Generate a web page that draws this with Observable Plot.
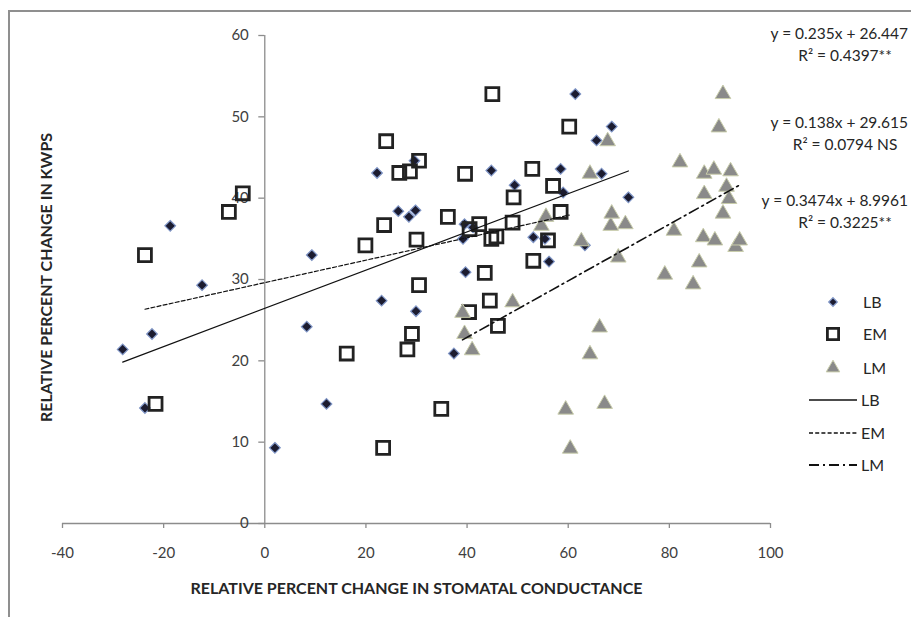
<!DOCTYPE html>
<html>
<head>
<meta charset="utf-8">
<script src="https://cdn.jsdelivr.net/npm/d3@7"></script>
<script src="https://cdn.jsdelivr.net/npm/@observablehq/plot@0.6"></script>
<style>
  html, body { margin: 0; padding: 0; background: #fff; overflow: hidden; }
  #wrap { position: relative; width: 911px; height: 617px; overflow: hidden; font-family: Lato, "Open Sans", sans-serif; }
  #frame { position: absolute; left: 8px; top: 10px; width: 1200px; height: 1200px; border: 2px solid #8f8f8f; pointer-events: none; }
  #overlay { position: absolute; left: 0; top: 0; pointer-events: none; }
</style>
</head>
<body>
<div id="wrap"><div id="frame"></div></div>
<script>
// ---- data ----
const seriesNames = ["LB", "EM", "LM"];
const lbX = [-28.1, -23.7, -22.3, -18.7, -12.4, 2.0, 8.3, 9.3, 12.2, 22.2, 23.1, 26.4, 28.5, 29.8, 29.6, 29.9, 37.4, 39.2, 39.5, 39.7, 41.2, 44.8, 49.4, 53.1, 55.4, 56.2, 58.5, 59.0, 61.4, 63.3, 65.6, 66.6, 68.6, 71.9];
const lbY = [21.4, 14.2, 23.3, 36.6, 29.3, 9.3, 24.2, 33.0, 14.7, 43.1, 27.4, 38.4, 37.7, 38.5, 44.6, 26.1, 20.9, 35.0, 36.8, 30.9, 36.4, 43.4, 41.6, 35.2, 35.0, 32.2, 43.6, 40.7, 52.8, 34.2, 47.1, 43.0, 48.8, 40.1];
const emX = [-23.7, -21.6, -7.1, -4.35, 16.2, 19.9, 23.4, 23.6, 24.0, 26.6, 28.2, 28.7, 29.1, 30.0, 30.5, 30.5, 34.9, 36.2, 39.6, 40.4, 40.5, 42.4, 43.5, 44.5, 45.0, 44.8, 45.8, 46.1, 49.0, 49.2, 52.9, 53.1, 56.0, 57.0, 58.5, 60.2];
const emY = [33.0, 14.7, 38.3, 40.6, 20.9, 34.2, 9.3, 36.7, 47.0, 43.1, 21.4, 43.3, 23.3, 34.9, 29.3, 44.6, 14.1, 37.7, 43.0, 26.0, 36.2, 36.8, 30.8, 27.4, 52.8, 35.0, 35.3, 24.3, 37.0, 40.1, 43.6, 32.3, 34.8, 41.5, 38.3, 48.8];
const lmX = [39.1, 39.5, 41.0, 49.0, 54.7, 55.6, 59.5, 60.4, 62.6, 64.3, 64.3, 66.2, 67.2, 67.8, 68.4, 68.6, 69.9, 71.3, 79.1, 80.9, 82.1, 84.7, 85.9, 86.7, 86.9, 86.9, 88.8, 89.0, 89.8, 90.6, 90.6, 91.3, 91.8, 92.1, 93.1, 93.9];
const lmY = [25.9, 23.3, 21.3, 27.2, 36.6, 37.7, 14.0, 9.2, 34.7, 43.0, 20.8, 24.1, 14.7, 47.0, 36.6, 38.1, 32.7, 36.8, 30.6, 36.0, 44.4, 29.4, 32.1, 35.2, 40.5, 43.0, 43.5, 34.8, 48.7, 52.8, 38.1, 41.4, 39.9, 43.3, 34.0, 34.8];
const fitSlope = [0.235, 0.138, 0.3474];
const fitIntercept = [26.447, 29.615, 8.9961];
const fitEquation = ["y = 0.235x + 26.447", "y = 0.138x + 29.615", "y = 0.3474x + 8.9961"];
const fitR2 = ["R² = 0.4397**", "R² = 0.0794 NS", "R² = 0.3225**"];
const xTicks = [-40, -20, 0, 20, 40, 60, 80, 100];
const yTicks = [0, 10, 20, 30, 40, 50, 60];
const xTitle = "RELATIVE PERCENT CHANGE IN STOMATAL CONDUCTANCE";
const yTitle = "RELATIVE PERCENT CHANGE IN KWPS";

// ---- derived tables ----
const toRows = (xs, ys) => xs.map((x, i) => ({x, y: ys[i]}));
const lb = toRows(lbX, lbY), em = toRows(emX, emY), lm = toRows(lmX, lmY);
const allX = [lbX, emX, lmX];
const fitRows = seriesNames.map((s, i) => {
  const [a, b] = d3.extent(allX[i]);
  return [a, b].map(x => ({series: s, x, y: fitSlope[i] * x + fitIntercept[i]}));
});

const axisGray = "#8c8c8c";
const textGray = "#404040";
const dashes = ["none", "4,2.2", "10,4,2,4"];
const font = "Lato, 'Open Sans', sans-serif";

const styles = {
  LB: {symbol: "diamond2", r: 4.8, fill: "#1c1c30", stroke: "#7f95c6", strokeWidth: 1.2},
  EM: {symbol: "square", r: 7.3, fill: "none", stroke: "#222", strokeWidth: 2.8},
  LM: {symbol: "triangle", r: 5.8, fill: "#8a8a8a", stroke: "#c9cdab", strokeWidth: 1}
};

const chart = Plot.plot({
  width: 911, height: 617,
  marginLeft: 62, marginRight: 141, marginTop: 35, marginBottom: 94,
  style: {fontFamily: font, background: "transparent", overflow: "visible"},
  x: {domain: [-40, 100]},
  y: {domain: [0, 60], axis: null},
  marks: [
    Plot.ruleY([0], {stroke: axisGray, strokeWidth: 1.3}),
    Plot.ruleX([0], {stroke: axisGray, strokeWidth: 1.3}),
    Plot.axisX({ticks: xTicks, tickFormat: d => String(d), tickSize: 5, tickPadding: 19, stroke: axisGray, strokeWidth: 1.3, fill: textGray, fontSize: 15, label: null}),
    Plot.ruleY(yTicks, {y: d => d, x1: 0, x2: 0, insetLeft: -6, stroke: axisGray, strokeWidth: 1.3}),
    Plot.text(yTicks, {x: 0, y: d => d, text: d => String(d), textAnchor: "end", dx: -16, fill: textGray, fontSize: 15}),
    Plot.dot(lb, {x: "x", y: "y", ...styles.LB}),
    Plot.dot(em, {x: "x", y: "y", ...styles.EM}),
    Plot.dot(lm, {x: "x", y: "y", ...styles.LM}),
    ...fitRows.map((rows, i) => Plot.line(rows, {x: "x", y: "y", stroke: "#111", strokeWidth: i === 2 ? 1.6 : 1.2, strokeDasharray: dashes[i]})),
    Plot.text([xTitle], {frameAnchor: "bottom", textAnchor: "middle", dy: 70, fontWeight: "bold", fontSize: 16, fill: "#262626"}),
    Plot.text([yTitle], {frameAnchor: "left", textAnchor: "middle", dx: -16, dy: -2, rotate: -90, fontWeight: "bold", fontSize: 16, fill: "#262626"})
  ]
});
const wrap = document.getElementById("wrap");
wrap.insertBefore(chart, wrap.firstChild);

// ---- overlay: equations + legend ----
const svg = d3.select(wrap).append("svg").attr("id", "overlay").attr("width", 911).attr("height", 617)
  .style("font-family", font).style("font-size", "15.5px").style("fill", "#262626");
const eqY = [[34, 56], [123, 145], [201, 223]];
fitEquation.forEach((t, i) => {
  svg.append("text").attr("x", 908).attr("y", eqY[i][0]).attr("dy", "0.35em").attr("text-anchor", "end").text(t);
  svg.append("text").attr("x", 845).attr("y", eqY[i][1]).attr("dy", "0.35em").attr("text-anchor", "middle").text(fitR2[i]);
});
const symMap = {diamond2: d3.symbolDiamond2, square: d3.symbolSquare, triangle: d3.symbolTriangle};
const legY = [302, 334, 368];
seriesNames.forEach((s, i) => {
  const st = styles[s];
  const size = Math.PI * st.r * st.r * (s === "LB" ? 0.65 : 0.75);
  svg.append("path").attr("d", d3.symbol(symMap[st.symbol], size)())
    .attr("transform", `translate(833,${legY[i]})`)
    .attr("fill", st.fill).attr("stroke", st.stroke).attr("stroke-width", st.strokeWidth);
  svg.append("text").attr("x", 863).attr("y", legY[i]).attr("dy", "0.35em").style("font-size", "16px").text(s);
});
const lineY = [400, 433, 465];
seriesNames.forEach((s, i) => {
  svg.append("line").attr("x1", 809).attr("x2", 857).attr("y1", lineY[i]).attr("y2", lineY[i])
    .attr("stroke", "#111").attr("stroke-width", i === 2 ? 2.2 : 1.3).attr("stroke-dasharray", dashes[i]);
  svg.append("text").attr("x", 861).attr("y", lineY[i]).attr("dy", "0.35em").style("font-size", "16px").text(s);
});
</script>
</body>
</html>
